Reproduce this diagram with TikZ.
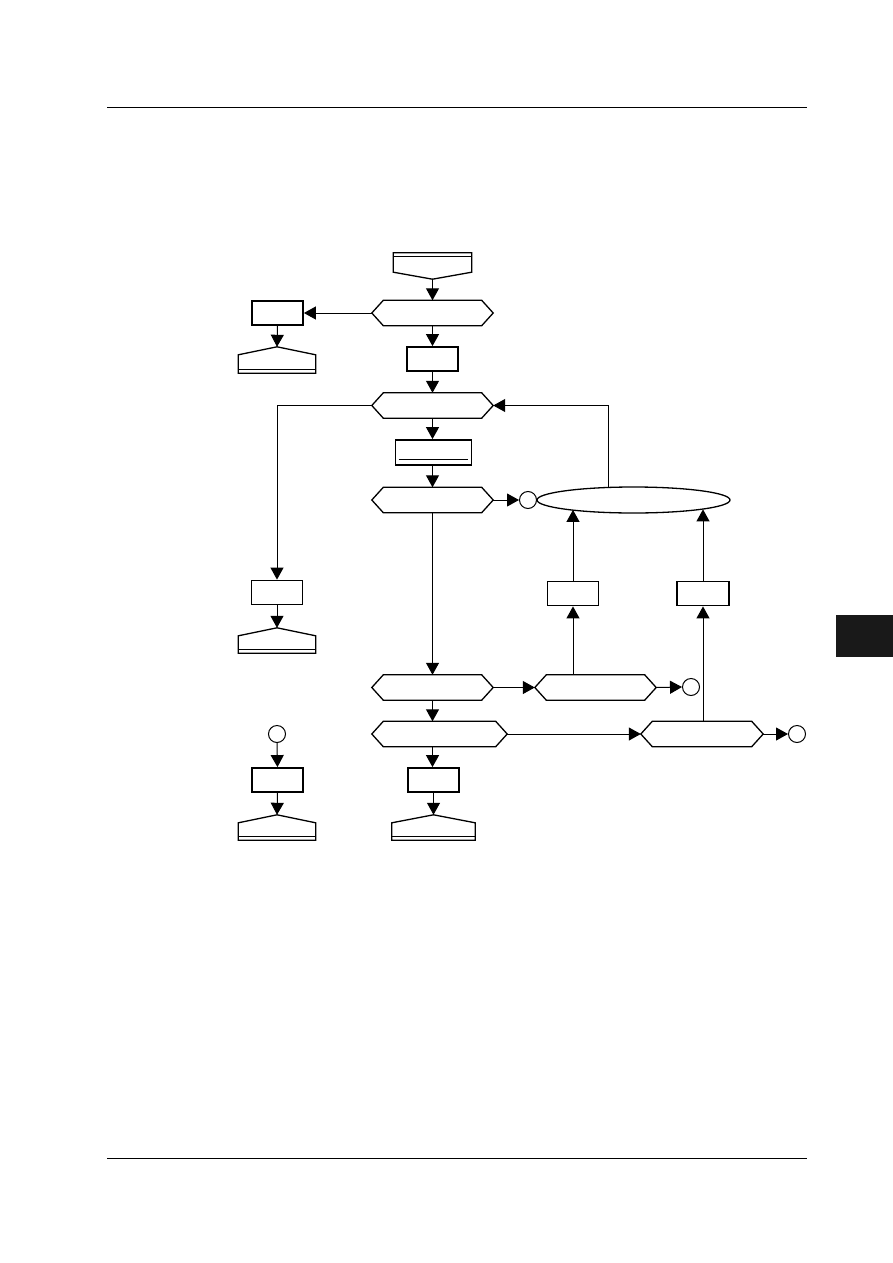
\documentclass[tikz,border=0pt]{standalone}
\usetikzlibrary{arrows.meta,shapes.geometric}
\begin{document}
\begin{tikzpicture}[x=1pt,y=-1pt,
  arr/.style={-{Triangle[width=13pt,length=12pt]}, line width=1pt},
  conn/.style={line width=1pt},
  box/.style={draw, line width=1.8pt, minimum width=51pt, minimum height=24pt, inner sep=0pt},
  dec/.style={minimum width=#1, minimum height=25pt, inner sep=0pt},
  term/.style={minimum width=#1, minimum height=25pt, inner sep=0pt},
  circ/.style={draw, circle, line width=1pt, minimum size=17pt, inner sep=0pt},
  shp/.style={line width=1.3pt, line join=miter},
]
\useasboundingbox (0,0) rectangle (893,1263);
% page furniture
\draw[line width=0.8pt] (107,107) -- (807,107);
\draw[line width=0.8pt] (107,1158) -- (807,1158);
\fill[black!90] (836,615) rectangle (893,657);

% nodes
\node[term=78pt, minimum height=26pt] (s) at (432.5,266) {};
\node[dec=121pt] (d1) at (432.5,313) {};
\node[box] (b1) at (277.5,313) {};
\node[term=77pt, minimum height=26pt] (e1) at (277,360) {};
\node[box] (b2) at (432.5,359) {};
\node[dec=121pt] (d2) at (432.5,405.5) {};
\node[box, minimum width=76pt, minimum height=25pt] (p1) at (433.5,452.5) {};
\node[dec=121pt] (d3) at (432.5,500) {};
\node[circ] (c1) at (528,500) {};
\node[draw, ellipse, line width=1.3pt, minimum width=193pt, minimum height=26pt, inner sep=0pt, outer sep=0pt] (ell) at (633.5,500) {};
\node[box] (b3) at (573,593.5) {};
\node[box, minimum width=52pt] (b4) at (703,593.5) {};
\node[box] (b5) at (277,592.5) {};
\node[term=77pt] (e2) at (277,640.5) {};
\node[dec=121pt] (d4) at (432.5,687.5) {};
\node[dec=121pt] (d5) at (595.5,687.5) {};
\node[circ] (c2) at (691,687) {};
\node[dec=135pt] (d6) at (439.5,734) {};
\node[dec=122pt] (d7) at (702,734) {};
\node[circ] (c3) at (797,734) {};
\node[box] (b6) at (433.5,780) {};
\node[term=83pt] (e3) at (433.5,827.5) {};
\node[circ] (c4) at (277,734) {};
\node[box] (b7) at (277.5,780) {};
\node[term=77pt] (e4) at (277,827.5) {};

% hexagon decisions
\foreach \n in {d1,d2,d3,d4,d5,d6,d7}
  \draw[shp] (\n.west) -- ([xshift=11.5pt]\n.north west) -- ([xshift=-11.5pt]\n.north east)
    -- (\n.east) -- ([xshift=-11.5pt]\n.south east) -- ([xshift=11.5pt]\n.south west) -- cycle;
% end terminals (point up, double base)
\foreach \n in {e1,e2,e3,e4} {
  \draw[shp] (\n.north) -- ([yshift=-8pt]\n.north east) -- (\n.south east) -- (\n.south west)
    -- ([yshift=-8pt]\n.north west) -- cycle;
  \draw[shp] ([yshift=4pt]\n.south west) -- ([yshift=4pt]\n.south east);
}
% start terminal (points down, double top)
\draw[shp] (s.north west) -- (s.north east) -- ([yshift=7pt]s.south east) -- (s.south)
  -- ([yshift=7pt]s.south west) -- cycle;
\draw[shp] ([yshift=-4pt]s.north west) -- ([yshift=-4pt]s.north east);
% underline in process box
\draw[line width=1pt] ([xshift=4pt,yshift=6pt]p1.south west) -- ([xshift=-4pt,yshift=6pt]p1.south east);

% connectors
\draw[arr] (s.south) -- (d1.north);
\draw[arr] (d1.west) -- (b1.east);
\draw[arr] (b1.south) -- (e1.north);
\draw[arr] (d1.south) -- (b2.north);
\draw[arr] (b2.south) -- (d2.north);
\draw[arr] (d2.west) -| (b5.north);
\draw[arr] (b5.south) -- (e2.north);
\draw[arr] (d2.south) -- (d2.south |- p1.north);
\draw[arr] (p1.south -| d3) -- (d3.north);
\draw[arr] (d3.east) -- (c1.west);
\draw[arr] (ell.north -| 608,0) |- (d2.east);
\draw[arr] (b3.north) -- (b3.north |- ell.189.5);
\draw[arr] (b4.north) -- (b4.north |- ell.352.6);
\draw[arr] (d3.south) -- (d4.north);
\draw[arr] (d4.east) -- (d5.west);
\draw[arr] (d5.north -| b3) -- (b3.south);
\draw[arr] (d5.east) -- (c2.west);
\draw[arr] (d4.south) -- (d4.south |- d6.north);
\draw[arr] (d6.east) -- (d7.west);
\draw[arr] (d7.north -| b4) -- (b4.south);
\draw[arr] (d7.east) -- (c3.west);
\draw[arr] (d6.south -| d4) -- (d4 |- b6.north);
\draw[arr] (b6.south) -- (e3.north);
\draw[arr] (c4.south) -- (b7.north);
\draw[arr] (b7.south) -- (e4.north);
\end{tikzpicture}
\end{document}
